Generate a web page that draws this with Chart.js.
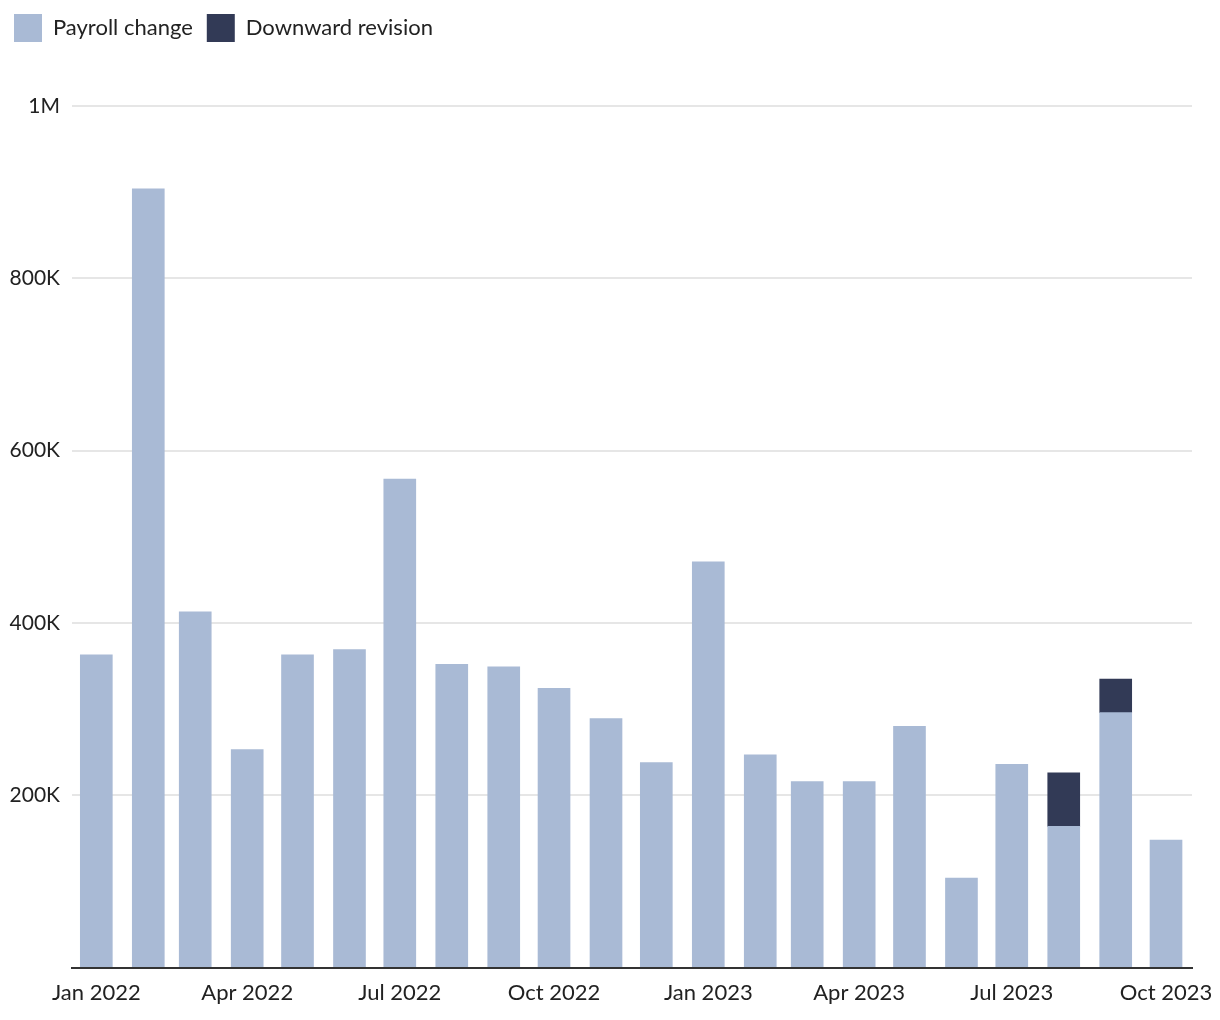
<!DOCTYPE html>
<html>
<head>
<meta charset="utf-8">
<script src="https://cdn.jsdelivr.net/npm/chart.js@4.4.1/dist/chart.umd.min.js"></script>
<style>
  html, body { margin: 0; padding: 0; background: #fff; }
  #wrap { width: 1220px; height: 1020px; position: relative; }
</style>
</head>
<body>
<div id="wrap"><canvas id="c"></canvas></div>
<script>
// ---- Data ----
const months = ["2022-01","2022-02","2022-03","2022-04","2022-05","2022-06","2022-07","2022-08","2022-09","2022-10","2022-11","2022-12",
                "2023-01","2023-02","2023-03","2023-04","2023-05","2023-06","2023-07","2023-08","2023-09","2023-10"];
const payrollChange = [363000, 904000, 413000, 253000, 363000, 369000, 567000, 352000, 349000, 324000, 289000, 238000,
                       471000, 247000, 216000, 216000, 280000, 104000, 236000, 164000, 296000, 148000];
const downwardRevision = [null, null, null, null, null, null, null, null, null, null, null, null,
                          null, null, null, null, null, null, null, 62000, 39000, null];
const tickMonths = ["2022-01","2022-04","2022-07","2022-10","2023-01","2023-04","2023-07","2023-10"];
const tickLabels = ["Jan 2022","Apr 2022","Jul 2022","Oct 2022","Jan 2023","Apr 2023","Jul 2023","Oct 2023"];
const yTicks = [0, 200000, 400000, 600000, 800000, 1000000];
const yTickLabels = ["", "200K", "400K", "600K", "800K", "1M"];

const dayOf = s => { const [y, m] = s.split("-").map(Number); return Date.UTC(y, m - 1, 1) / 864e5; };
const xs = months.map(dayOf);
const tickXs = tickMonths.map(dayOf);

const FONT = "Lato, 'Noto Sans', sans-serif";

const legendSpacer = {
  id: 'legendSpacer',
  beforeInit(chart) {
    const orig = chart.legend.fit;
    chart.legend.fit = function () { orig.call(this); this.height += 54; };
  }
};

new Chart(document.getElementById('c'), {
  type: 'bar',
  data: {
    datasets: [
      { label: 'Payroll change', data: xs.map((x, i) => ({ x, y: payrollChange[i] })),
        backgroundColor: '#a9bad5', barThickness: 32 },
      { label: 'Downward revision', data: xs.map((x, i) => ({ x, y: downwardRevision[i] })),
        backgroundColor: '#323a56', barThickness: 32 }
    ]
  },
  plugins: [legendSpacer],
  options: {
    responsive: true,
    maintainAspectRatio: false,
    animation: false,
    devicePixelRatio: 1,
    layout: { padding: { top: 0, left: 0, right: 28, bottom: 2 } },
    plugins: {
      legend: {
        position: 'top', align: 'start',
        labels: { boxWidth: 28, boxHeight: 28, padding: 14, color: '#222',
                  font: { family: FONT, size: 22 } }
      },
      tooltip: { enabled: false }
    },
    scales: {
      x: {
        type: 'linear', stacked: true, offset: false,
        min: dayOf("2022-01") - 14.5, max: dayOf("2023-10") + 15.5,
        grid: { display: false, drawTicks: false, offset: false },
        border: { display: true, color: '#333', width: 2 },
        afterBuildTicks: s => { s.ticks = tickXs.map(v => ({ value: v })); },
        afterFit: s => { s.paddingLeft = 0; s.paddingRight = 0; },
        ticks: { autoSkip: false, maxRotation: 0, padding: 12, color: '#222',
                 font: { family: FONT, size: 22 },
                 callback: v => { const i = tickXs.indexOf(v); return i >= 0 ? tickLabels[i] : ''; } }
      },
      y: {
        stacked: true, min: 0, max: 1000000,
        afterBuildTicks: s => { s.ticks = yTicks.map(v => ({ value: v })); },
        afterFit: s => { s.width = 72; },
        grid: { color: '#e6e6e6', lineWidth: 2, drawTicks: false },
        border: { display: false },
        ticks: { padding: 12, color: '#222', font: { family: FONT, size: 21 },
                 callback: v => { const i = yTicks.indexOf(v); return i >= 0 ? yTickLabels[i] : ''; } }
      }
    }
  }
});
</script>
</body>
</html>
